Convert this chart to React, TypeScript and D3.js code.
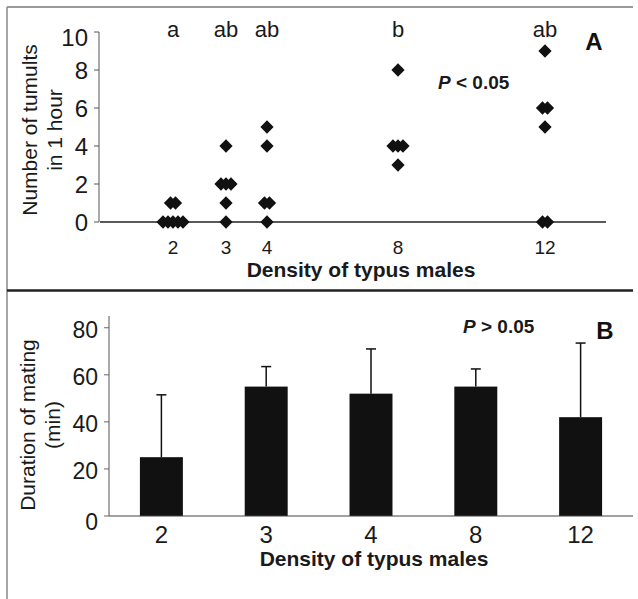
import React, { useEffect, useRef } from 'react';
import * as d3 from 'd3';

// Panel A: individual observations (density of typus males, tumults per hour)
const densityA = [2, 2, 2, 2, 2, 2, 2, 3, 3, 3, 3, 3, 3, 4, 4, 4, 4, 4, 8, 8, 8, 8, 8, 12, 12, 12, 12, 12, 12];
const tumultsA = [1, 1, 0, 0, 0, 0, 0, 4, 2, 2, 2, 1, 0, 5, 4, 1, 1, 0, 8, 4, 4, 4, 3, 9, 6, 6, 5, 0, 0];
const densityLevels = [2, 3, 4, 8, 12];
const groupLetters = ['a', 'ab', 'ab', 'b', 'ab'];
const ticksA = [0, 2, 4, 6, 8, 10];

// Panel B: mean duration of mating with SD
const categoriesB = ['2', '3', '4', '8', '12'];
const meanB = [25, 55, 52, 55, 42];
const sdB = [26.5, 8.5, 19, 7.5, 31.5];
const ticksB = [0, 20, 40, 60, 80];

const FONT = '"Liberation Sans", Arial, Helvetica, sans-serif';
const INK = '#1a1a1a';

const Chart = () => {
  const ref = useRef(null);

  useEffect(() => {
    const svg = d3.select(ref.current);
    svg.selectAll('*').remove();
    svg.attr('width', 638).attr('height', 599);

    // frame
    svg.append('line').attr('x1', 7).attr('x2', 633).attr('y1', 7).attr('y2', 7)
      .attr('stroke', '#777').attr('stroke-width', 1.5);
    svg.append('line').attr('x1', 7).attr('x2', 7).attr('y1', 7).attr('y2', 599)
      .attr('stroke', '#888').attr('stroke-width', 1.5);
    svg.append('line').attr('x1', 7).attr('x2', 633).attr('y1', 290.5).attr('y2', 290.5)
      .attr('stroke', '#222').attr('stroke-width', 2.5);

    // ---------- Panel A ----------
    const xA = d3.scaleLinear().domain(densityLevels).range([173, 226, 267, 398, 545]);
    const yA = d3.scaleLinear().domain([0, 10]).range([222, 32]);
    const a = svg.append('g');

    a.append('line').attr('x1', 99).attr('x2', 99).attr('y1', yA(10)).attr('y2', yA(0))
      .attr('stroke', '#555').attr('stroke-width', 1);
    a.append('line').attr('x1', 100).attr('x2', 606).attr('y1', yA(0)).attr('y2', yA(0))
      .attr('stroke', '#222').attr('stroke-width', 1.4);

    ticksA.forEach((t) => {
      a.append('line').attr('x1', 94).attr('x2', 99).attr('y1', yA(t)).attr('y2', yA(t))
        .attr('stroke', '#555');
      a.append('text').attr('x', 88).attr('y', yA(t) + (t === 10 ? 6 : 1)).attr('dy', '0.35em')
        .attr('text-anchor', 'end').attr('font-size', 24).attr('fill', INK).text(t);
    });

    densityLevels.forEach((d, i) => {
      a.append('text').attr('x', xA(d)).attr('y', 254).attr('text-anchor', 'middle')
        .attr('font-size', 19).attr('fill', INK).text(d);
      a.append('text').attr('x', xA(d)).attr('y', 37).attr('text-anchor', 'middle')
        .attr('font-size', 22).attr('fill', INK).text(groupLetters[i]);
    });

    // diamonds, side by side where they overlap
    const groups = d3.group(densityA.map((d, i) => ({ d, v: tumultsA[i] })), (p) => `${p.d}-${p.v}`);
    const diamond = d3.symbol().type(d3.symbolSquare).size(88);
    groups.forEach((pts) => {
      pts.forEach((p, k) => {
        const off = (k - (pts.length - 1) / 2) * 5;
        a.append('path').attr('d', diamond())
          .attr('transform', `translate(${xA(p.d) + off},${yA(p.v)}) rotate(45)`)
          .attr('fill', '#111');
      });
    });

    a.append('text').attr('x', 361).attr('y', 277).attr('text-anchor', 'middle')
      .attr('font-size', 21).attr('font-weight', 'bold').attr('fill', INK)
      .text('Density of typus males');

    const titleA = a.append('text').attr('transform', 'translate(0,130) rotate(-90)')
      .attr('text-anchor', 'middle').attr('font-size', 21).attr('fill', INK);
    titleA.append('tspan').attr('x', 0).attr('y', 37).text('Number of tumults');
    titleA.append('tspan').attr('x', 0).attr('y', 62).text('in 1 hour');

    const pA = a.append('text').attr('x', 438).attr('y', 89).attr('font-size', 19)
      .attr('font-weight', 'bold').attr('fill', INK);
    pA.append('tspan').attr('font-style', 'italic').text('P');
    pA.append('tspan').text(' < 0.05');

    a.append('text').attr('x', 594).attr('y', 50).attr('text-anchor', 'middle')
      .attr('font-size', 24).attr('font-weight', 'bold').attr('fill', '#111').text('A');

    // ---------- Panel B ----------
    const xB = d3.scaleBand().domain(categoriesB).range([109, 633])
      .paddingInner(0.59).paddingOuter(0.295);
    const yB = d3.scaleLinear().domain([0, 85]).range([516, 316]);
    const b = svg.append('g');

    b.append('line').attr('x1', 109).attr('x2', 109).attr('y1', yB(85)).attr('y2', yB(0))
      .attr('stroke', '#555').attr('stroke-width', 1);
    ticksB.forEach((t) => {
      b.append('line').attr('x1', 104).attr('x2', 109).attr('y1', yB(t)).attr('y2', yB(t))
        .attr('stroke', '#666');
      b.append('text').attr('x', 98).attr('y', yB(t) + (t === 0 ? 6 : 2)).attr('dy', '0.35em')
        .attr('text-anchor', 'end').attr('font-size', 23).attr('fill', INK).text(t);
    });

    categoriesB.forEach((c, i) => {
      const cx = xB(c) + xB.bandwidth() / 2;
      const top = yB(meanB[i]);
      const errTop = yB(meanB[i] + sdB[i]);
      b.append('line').attr('x1', cx).attr('x2', cx).attr('y1', top).attr('y2', errTop)
        .attr('stroke', '#111').attr('stroke-width', 1.5);
      b.append('line').attr('x1', cx - 5).attr('x2', cx + 5).attr('y1', errTop).attr('y2', errTop)
        .attr('stroke', '#111').attr('stroke-width', 1.5);
      b.append('rect').attr('x', xB(c)).attr('y', top).attr('width', xB.bandwidth())
        .attr('height', yB(0) - top).attr('fill', '#111');
      b.append('text').attr('x', cx).attr('y', 543).attr('text-anchor', 'middle')
        .attr('font-size', 24).attr('fill', INK).text(c);
    });

    b.append('line').attr('x1', 109).attr('x2', 633).attr('y1', yB(0)).attr('y2', yB(0))
      .attr('stroke', '#444').attr('stroke-width', 1.2);

    b.append('text').attr('x', 374).attr('y', 566).attr('text-anchor', 'middle')
      .attr('font-size', 21).attr('font-weight', 'bold').attr('fill', INK)
      .text('Density of typus males');

    const titleB = b.append('text').attr('transform', 'translate(0,425) rotate(-90)')
      .attr('text-anchor', 'middle').attr('font-size', 21).attr('fill', INK);
    titleB.append('tspan').attr('x', 0).attr('y', 35).text('Duration of mating');
    titleB.append('tspan').attr('x', 0).attr('y', 60).text('(min)');

    const pB = b.append('text').attr('x', 463).attr('y', 333).attr('font-size', 19)
      .attr('font-weight', 'bold').attr('fill', INK);
    pB.append('tspan').attr('font-style', 'italic').text('P');
    pB.append('tspan').text(' > 0.05');

    b.append('text').attr('x', 605).attr('y', 339).attr('text-anchor', 'middle')
      .attr('font-size', 24).attr('font-weight', 'bold').attr('fill', '#111').text('B');
  }, []);

  return (
    <svg
      ref={ref}
      style={{ position: 'absolute', left: 0, top: 0, display: 'block', fontFamily: FONT, background: '#fff' }}
    ></svg>
  );
};

export default function App() {
  return <Chart />;
}
